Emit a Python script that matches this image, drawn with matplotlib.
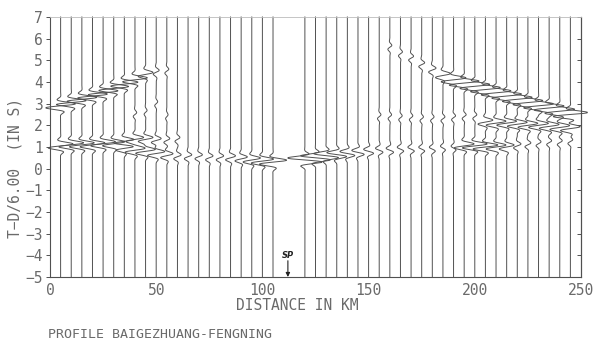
#!/usr/bin/env python3

# Record section of the Baigezhuang-Fengning profile, reduced at 6 km/s.

import matplotlib
matplotlib.use('Agg')
import matplotlib.pyplot
import numpy

LINE_COLOR = '#505050'
TEXT_COLOR = '#6a6a6a'
FONT = {'family': 'DejaVu Sans Mono', 'size': 10.5, 'color': TEXT_COLOR}

SHOT_POINT = 112

# Station distances (km).
LEFT_DISTANCES = [5, 10, 15, 20, 25, 30, 35, 40, 45, 50, 55, 60, 65, 70, 75, 80, 85, 90, 95, 100, 105]
RIGHT_DISTANCES = [120, 125, 130, 135, 140, 145, 150, 155, 160, 165, 170, 175, 180, 185, 190,
                   195, 200, 205, 210, 215, 220, 225, 230, 235, 240, 245]

# Picked phases: station distance, reduced time (s), peak deflection (km).
LEFT_REFL_D = [5, 10, 15, 20, 25, 30, 35, 40, 45, 50, 55]
LEFT_REFL_T = [2.9, 3.05, 3.2, 3.35, 3.5, 3.7, 3.9, 4.1, 4.35, 4.45, 4.5]
LEFT_REFL_A = [6, 6, 6, 6, 6, 6, 5.5, 5, 3, 1.2, 0.8]

LEFT_CRUST_D = [5, 10, 15, 20, 25, 30, 35, 40, 45, 50, 55, 60]
LEFT_CRUST_T = [1.05, 1.1, 1.1, 1.1, 1.15, 1.15, 1.25, 1.35, 1.35, 1.3, 1.3, 1.35]
LEFT_CRUST_A = [5, 5, 5, 5, 5, 4.5, 4, 3.5, 3, 2, 1.2, 1]

LEFT_PG_D = [35, 40, 45, 50, 55, 60, 65, 70, 75, 80, 85, 90, 95, 100, 105]
LEFT_PG_T = [0.95, 0.85, 0.8, 0.7, 0.6, 0.55, 0.55, 0.55, 0.5, 0.5, 0.5, 0.45, 0.4, 0.35, 0.3]
LEFT_PG_A = [3.5, 4, 4, 3.5, 2.5, 1.5, 1.5, 1.5, 1.5, 1.5, 2, 2.5, 3.5, 4.5, 5.5]

LEFT_WEAK_D = [40, 45, 50, 55]
LEFT_WEAK_T = [2.5, 2.6, 3.0, 2.4]
LEFT_WEAK_A = [0.7, 0.6, 0.6, 0.5]

RIGHT_PG_D = [120, 125, 130, 135, 140, 145, 150, 155, 160, 165, 170, 175, 180, 185, 190]
RIGHT_PG_T = [0.4, 0.5, 0.6, 0.65, 0.7, 0.75, 0.8, 0.85, 0.85, 0.9, 0.9, 0.9, 0.9, 0.95, 0.95]
RIGHT_PG_A = [-7, -6, -5, -4, -3, -2.5, -2, -1.5, -1.5, -1.3, -1.3, -1.2, -1.2, -1, -1]

RIGHT_PN_D = [195, 200, 205, 210, 215, 220, 225, 230, 235, 240, 245]
RIGHT_PN_T = [1.05, 1.05, 1.0, 1.0, 1.0, 1.05, 1.1, 1.15, 1.2, 1.2, 1.25]
RIGHT_PN_A = [4, 5, 5, 4, 3, 1.5, 1.2, 1, 1, 1, 1]

RIGHT_MID_D = [205, 210, 215, 220, 225, 230, 235, 240, 245]
RIGHT_MID_T = [2.15, 2.1, 2.1, 2.05, 2.0, 2.0, 1.95, 1.9, 1.85]
RIGHT_MID_A = [3, 4, 4, 4, 4, 4, 4, 4, 4]

RIGHT_REFL_D = [160, 165, 170, 175, 180, 185, 190, 195, 200, 205, 210, 215, 220, 225, 230, 235, 240, 245]
RIGHT_REFL_T = [5.6, 5.3, 5.1, 4.8, 4.55, 4.3, 4.1, 3.95, 3.8, 3.65, 3.5, 3.35, 3.2, 3.05, 2.9, 2.8, 2.65, 2.5]
RIGHT_REFL_A = [0.8, 0.8, 1, 1.2, 1.5, 3, 5, 6, 6, 6, 6, 6, 6, 6, 6, 6, 6, 7]

RIGHT_WEAK_D = [155, 160, 165, 170, 175, 180, 185, 190, 195, 200]
RIGHT_WEAK_T = [2.4, 2.4, 2.35, 2.35, 2.3, 2.3, 2.3, 2.35, 2.4, 2.4]
RIGHT_WEAK_A = [0.7, 0.7, 0.7, 0.7, 0.7, 0.7, 0.8, 0.8, 0.8, 0.8]

PHASES = [
    (LEFT_REFL_D, LEFT_REFL_T, LEFT_REFL_A),
    (LEFT_CRUST_D, LEFT_CRUST_T, LEFT_CRUST_A),
    (LEFT_PG_D, LEFT_PG_T, LEFT_PG_A),
    (LEFT_WEAK_D, LEFT_WEAK_T, LEFT_WEAK_A),
    (RIGHT_PG_D, RIGHT_PG_T, RIGHT_PG_A),
    (RIGHT_PN_D, RIGHT_PN_T, RIGHT_PN_A),
    (RIGHT_MID_D, RIGHT_MID_T, RIGHT_MID_A),
    (RIGHT_REFL_D, RIGHT_REFL_T, RIGHT_REFL_A),
    (RIGHT_WEAK_D, RIGHT_WEAK_T, RIGHT_WEAK_A),
]

T_MIN = -5
T_MAX = 7

def wavelet(tau):
    return numpy.sin(2 * numpy.pi * 2.3 * tau) * numpy.exp(-(tau / 0.24) ** 2) / 0.72

def traceWiggle(distance, times):
    wiggle = numpy.zeros_like(times)
    for phaseD, phaseT, phaseA in PHASES:
        for d, t, a in zip(phaseD, phaseT, phaseA):
            if (d == distance):
                wiggle += a * wavelet(times - t)
    return distance + numpy.clip(wiggle, -8, 8)

def main():
    figure = matplotlib.pyplot.figure(figsize = (5.96, 3.47), dpi = 100)
    axis = figure.add_axes([50 / 596, 1 - 277 / 347, 531 / 596, 260 / 347])

    times = numpy.arange(T_MIN, T_MAX + 0.005, 0.01)
    for distance in LEFT_DISTANCES + RIGHT_DISTANCES:
        axis.plot(traceWiggle(distance, times), times, color = LINE_COLOR, linewidth = 0.7, clip_on = False)

    axis.set_xlim(0, 250)
    axis.set_ylim(T_MIN, T_MAX)

    axis.set_xticks(range(0, 251, 50))
    axis.set_yticks(range(T_MIN, T_MAX + 1))
    axis.set_xticklabels([str(v) for v in range(0, 251, 50)], fontdict = FONT)
    axis.set_yticklabels([str(v).replace('-', '\u2212') for v in range(T_MIN, T_MAX + 1)], fontdict = FONT)
    axis.tick_params(axis = 'y', direction = 'out', length = 3, width = 0.7, color = LINE_COLOR, pad = 2)
    axis.tick_params(axis = 'x', length = 0, pad = 4)

    # Right side carries inward ticks only.
    rightAxis = axis.secondary_yaxis('right')
    rightAxis.set_yticks(range(T_MIN, T_MAX + 1))
    rightAxis.tick_params(direction = 'in', length = 3, width = 0.7, color = LINE_COLOR, labelright = False)
    rightAxis.spines['right'].set_color(LINE_COLOR)
    rightAxis.spines['right'].set_linewidth(0.8)

    for side in ['left', 'bottom', 'right']:
        axis.spines[side].set_color(LINE_COLOR)
        axis.spines[side].set_linewidth(0.8)
    axis.spines['top'].set_color('#bbbbbb')
    axis.spines['top'].set_linewidth(0.6)

    # Shot point marker.
    axis.annotate('', xy = (SHOT_POINT, T_MIN), xytext = (SHOT_POINT, T_MIN + 0.75),
                  arrowprops = dict(arrowstyle = '-|>', color = '#222222', linewidth = 0.8,
                                    mutation_scale = 6, shrinkA = 0, shrinkB = 0))
    axis.text(SHOT_POINT, T_MIN + 0.8, 'SP', ha = 'center', va = 'bottom', fontsize = 6,
              fontweight = 'bold', fontstyle = 'italic', color = '#222222')

    figure.text(297 / 596, 1 - 305 / 347, 'DISTANCE IN KM', ha = 'center', va = 'center', fontdict = FONT)
    figure.text(15 / 596, 1 - 168 / 347, 'T\u2212D/6.00  (IN S)', ha = 'center', va = 'center',
                rotation = 90, fontdict = FONT)
    figure.text(48 / 596, 1 - 334 / 347, 'PROFILE BAIGEZHUANG-FENGNING', ha = 'left', va = 'center',
                fontdict = dict(FONT, size = 9.5))

    figure.savefig('out.png', dpi = 100)

if (__name__ == '__main__'):
    main()
